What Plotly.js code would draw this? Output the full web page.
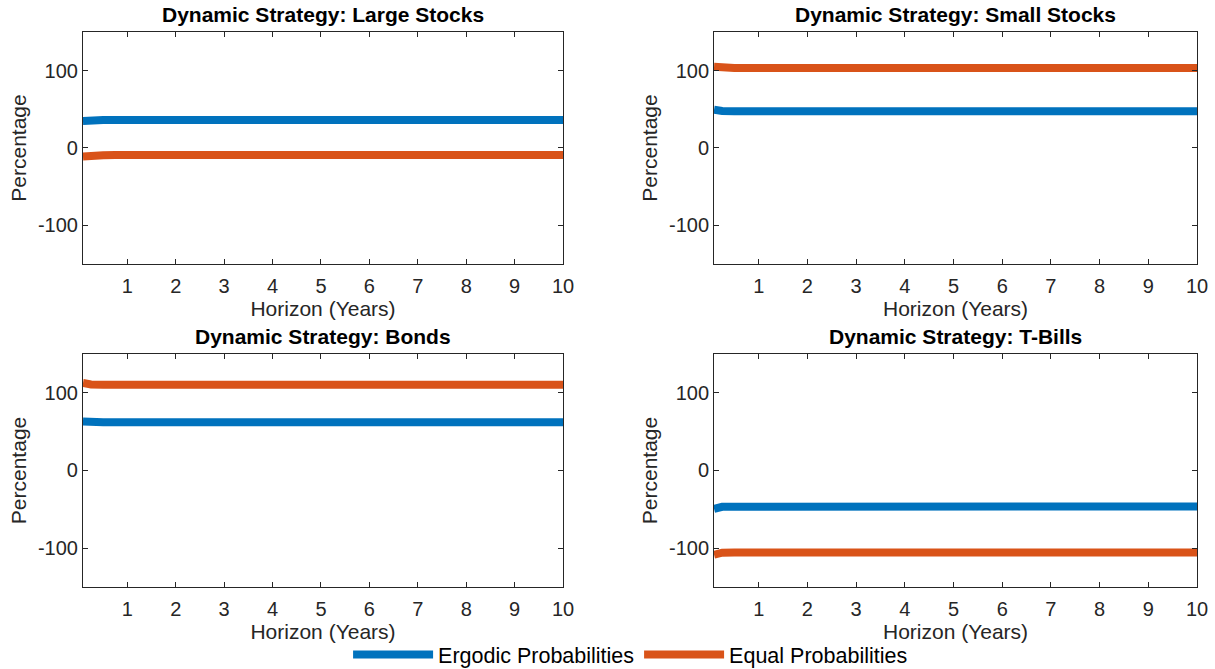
<!DOCTYPE html>
<html>
<head>
<meta charset="utf-8">
<script src="https://cdn.plot.ly/plotly-3.0.1.min.js"></script>
<style>
  html, body { margin: 0; padding: 0; background: #fff; }
  #chart { width: 1215px; height: 669px; }
</style>
</head>
<body>
<div id="chart"></div>
<script>
// Investment horizon in years (monthly steps at the short end)
const horizon = [0.0833, 0.1667, 0.25, 0.5, 0.75, 1, 2, 3, 4, 5, 6, 7, 8, 9, 10];

// Portfolio weights (%) under the dynamic strategy
const largeErgodic  = [35.0, 35.5, 35.8, 36.1, 36.2, 36.3, 36.3, 36.3, 36.3, 36.3, 36.3, 36.3, 36.3, 36.3, 36.3];
const largeEqual    = [-11.0, -10.3, -9.8, -9.3, -9.1, -9.0, -9.0, -9.0, -9.0, -9.0, -9.0, -9.0, -9.0, -9.0, -9.0];
const smallErgodic  = [49.6, 48.4, 47.9, 47.6, 47.5, 47.4, 47.4, 47.4, 47.4, 47.4, 47.4, 47.4, 47.4, 47.4, 47.4];
const smallEqual    = [105.0, 104.2, 103.8, 103.5, 103.4, 103.4, 103.4, 103.4, 103.4, 103.4, 103.4, 103.4, 103.4, 103.4, 103.4];
const bondsErgodic  = [63.2, 62.6, 62.3, 62.1, 62.0, 62.0, 62.0, 62.0, 62.0, 62.0, 62.0, 62.0, 62.0, 62.0, 62.0];
const bondsEqual    = [112.6, 111.4, 110.8, 110.4, 110.3, 110.3, 110.3, 110.3, 110.3, 110.3, 110.3, 110.3, 110.3, 110.3, 110.3];
const tbillErgodic  = [-49.5, -47.4, -46.8, -46.6, -46.5, -46.5, -46.5, -46.5, -46.5, -46.5, -46.5, -46.5, -46.5, -46.5, -46.5];
const tbillEqual    = [-108.5, -106.4, -105.8, -105.6, -105.5, -105.5, -105.5, -105.5, -105.5, -105.5, -105.5, -105.5, -105.5, -105.5, -105.5];

const panelTitles = [
  'Dynamic Strategy: Large Stocks',
  'Dynamic Strategy: Small Stocks',
  'Dynamic Strategy: Bonds',
  'Dynamic Strategy: T-Bills'
];
const seriesNames = ['Ergodic Probabilities', 'Equal Probabilities'];
const xTicks = [1, 2, 3, 4, 5, 6, 7, 8, 9, 10];
const yTicks = [-100, 0, 100];

const blue = '#0072BD';
const orange = '#D95319';
const axisColor = '#262626';
const font = 'Liberation Sans, Arial, sans-serif';
const fs = 21;
const tickFs = 20;

const panels = [
  [largeErgodic, largeEqual],
  [smallErgodic, smallEqual],
  [bondsErgodic, bondsEqual],
  [tbillErgodic, tbillEqual]
];

const traces = [];
panels.forEach((pair, i) => {
  const suffix = i === 0 ? '' : String(i + 1);
  pair.forEach((vals, j) => {
    traces.push({
      x: horizon,
      y: vals,
      type: 'scatter',
      mode: 'lines',
      name: seriesNames[j],
      showlegend: i === 0,
      line: { color: j === 0 ? blue : orange, width: 8 },
      xaxis: 'x' + suffix,
      yaxis: 'y' + suffix,
      hoverinfo: 'skip'
    });
  });
});

const xDomains = [[0.0683, 0.4634], [0.5877, 0.9852]];
const yDomains = [[0.6054, 0.9522], [0.1226, 0.4709]];

function xAxis(dom, anchor) {
  return {
    domain: dom, anchor: anchor, range: [0.0833, 10],
    tickvals: xTicks, ticktext: xTicks.map(String),
    ticks: 'inside', ticklen: 5, tickcolor: axisColor, tickwidth: 1,
    showline: true, linecolor: axisColor, linewidth: 1, mirror: 'ticks',
    showgrid: false, zeroline: false,
    ticklabelstandoff: 4,
    tickfont: { family: font, size: tickFs, color: axisColor },
    title: { text: 'Horizon (Years)', font: { family: font, size: fs, color: axisColor }, standoff: 1 }
  };
}
function yAxis(dom, anchor) {
  return {
    domain: dom, anchor: anchor, range: [-150, 150],
    tickvals: yTicks, ticktext: yTicks.map(String),
    ticks: 'inside', ticklen: 5, tickcolor: axisColor, tickwidth: 1,
    showline: true, linecolor: axisColor, linewidth: 1, mirror: 'ticks',
    showgrid: false, zeroline: false,
    tickfont: { family: font, size: tickFs, color: axisColor },
    title: { text: 'Percentage', font: { family: font, size: fs, color: axisColor }, standoff: 5 }
  };
}

const layout = {
  width: 1215, height: 669,
  margin: { l: 0, r: 0, t: 0, b: 0 },
  paper_bgcolor: '#fff', plot_bgcolor: '#fff',
  font: { family: font, color: axisColor },
  xaxis: xAxis(xDomains[0], 'y'),   yaxis: yAxis(yDomains[0], 'x'),
  xaxis2: xAxis(xDomains[1], 'y2'), yaxis2: yAxis(yDomains[0], 'x2'),
  xaxis3: xAxis(xDomains[0], 'y3'), yaxis3: yAxis(yDomains[1], 'x3'),
  xaxis4: xAxis(xDomains[1], 'y4'), yaxis4: yAxis(yDomains[1], 'x4'),
  annotations: panelTitles.map((t, i) => ({
    text: '<b>' + t + '</b>',
    xref: 'paper', yref: 'paper',
    x: (xDomains[i % 2][0] + xDomains[i % 2][1]) / 2,
    y: yDomains[Math.floor(i / 2)][1],
    xanchor: 'center', yanchor: 'bottom', yshift: 4,
    showarrow: false,
    font: { family: font, size: fs, color: '#000' }
  })),
  legend: {
    orientation: 'h', x: 0.519, xanchor: 'center', y: 0, yanchor: 'bottom',
    font: { family: font, size: 21.5, color: '#000' },
    itemwidth: 80, bgcolor: 'rgba(0,0,0,0)', tracegroupgap: 0,
    borderwidth: 0
  }
};

// The legend box carries some inner padding; nudge it down so its row sits
// against the bottom edge of the figure.
const legendDrop = 6;

Plotly.newPlot('chart', traces, layout, { staticPlot: true, displayModeBar: false })
  .then(gd => {
    const lg = gd.querySelector('g.legend');
    if (!lg) return;
    const m = /translate\(\s*([-\d.]+)[ ,]+([-\d.]+)\s*\)/.exec(lg.getAttribute('transform') || '');
    if (m) {
      lg.setAttribute('transform',
        'translate(' + m[1] + ',' + (parseFloat(m[2]) + legendDrop) + ')');
    }
  });
</script>
</body>
</html>
